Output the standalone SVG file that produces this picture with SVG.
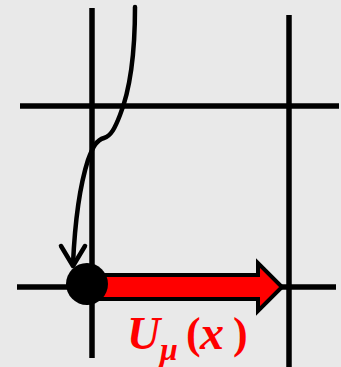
<svg xmlns="http://www.w3.org/2000/svg" width="341" height="367" viewBox="0 0 341 367">
<style>
.grid{stroke:#000;stroke-width:5.5;fill:none}
.path{stroke:#000;stroke-width:4.5;fill:none;stroke-linecap:round;stroke-linejoin:round}
.lbl{font-family:"Liberation Serif",serif;font-weight:bold;font-style:italic;fill:#ff0000}
.par{font-family:"Liberation Serif",serif;font-weight:bold;fill:#ff0000}
</style>
<rect width="341" height="367" fill="#e9e9e9"/>
<g id="lattice">
<line class="grid" x1="92" y1="8" x2="92" y2="358"/>
<line class="grid" x1="289" y1="15" x2="289" y2="367"/>
<line class="grid" x1="20" y1="106" x2="339" y2="106"/>
<line class="grid" x1="17" y1="287" x2="336" y2="287"/>
</g>
<g id="connectors">
<path class="path" d="M135,7 C135,55 130,90 120,115 C115,128 111,136 104,138 C97,140 93,146 88,160 C80,185 75,220 73,264"/>
<polyline class="path" points="61,246 73,266 85,246"/>
</g>
<g id="link">
<path d="M100,275 L258,275 L258,263 L282,287 L258,311 L258,299 L100,299 Z" fill="#ff0000" stroke="#000" stroke-width="4" stroke-linejoin="miter"/>
</g>
<g id="site">
<circle cx="87" cy="284" r="21" fill="#000"/>
</g>
<g id="label">
<text class="lbl" x="127" y="349" font-size="46">U</text>
<text class="lbl" x="160" y="360" font-size="32">μ</text>
<text class="par" x="186" y="348" font-size="44">(</text>
<text class="lbl" x="200" y="349" font-size="48">x</text>
<text class="par" x="233" y="348" font-size="44">)</text>
</g>
</svg>
